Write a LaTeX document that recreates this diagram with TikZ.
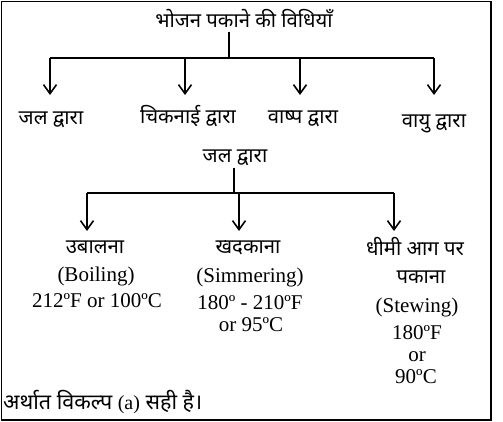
\documentclass[tikz,border=0pt]{standalone}
\usepackage{fontspec}
\setmainfont{Liberation Serif}
\newfontfamily\hin[Script=Devanagari]{Noto Sans}
\usetikzlibrary{arrows.meta}
\begin{document}
\begin{tikzpicture}[x=1pt,y=-1pt,
  frame/.style={line width=1.3pt},
  conn/.style={line width=1.6pt},
  arr/.style={line width=1.6pt,-{Straight Barb[length=9pt,width=13pt]}},
  hi/.style={font=\hin\fontsize{20.3}{22}\selectfont, inner sep=0pt, anchor=base},
  en/.style={font=\fontsize{21}{24}\selectfont, inner sep=0pt, anchor=base}]
\useasboundingbox (0,0) rectangle (503,422);
\draw[frame] (1.5,1.5) rectangle (491,420);

% level 0
\node[hi] (t) at (244,28) {भोजन पकाने की विधियाँ};
% level 1
\node[hi] (r1) at (51,125) {जल द्वारा};
\node[hi] (r2) at (188,124) {चिकनाई द्वारा};
\node[hi] (r3) at (303,124) {वाष्प द्वारा};
\node[hi] (r4) at (434,128) {वायु द्वारा};
% sub tree
\node[hi] (s) at (235,163) {जल द्वारा};
\node[hi] (b1) at (95,253) {उबालना};
\node[en] (b2) at (96,281) {(Boiling)};
\node[en] (b3) at (97,307) {212ºF or 100ºC};
\node[hi] (c1) at (248,253) {खदकाना};
\node[en] (c2) at (250,282) {(Simmering)};
\node[en] (c3) at (250,309) {180º - 210ºF};
\node[en] (c4) at (251,331) {or 95ºC};
\node[hi] (d1) at (415,255) {धीमी आग पर};
\node[hi] (d2) at (421,283) {पकाना};
\node[en] (d3) at (417,312) {(Stewing)};
\node[en] (d4) at (417,339) {180ºF};
\node[en] (d5) at (417,361) {or};
\node[en] (d6) at (416,383) {90ºC};
\node[hi, anchor=base west, font=\hin\fontsize{21.5}{24}\selectfont] (e) at (3,409) {अर्थात विकल्प {\rmfamily\fontsize{20}{22}\selectfont(a)} सही है।};

% connectors level 0 -> 1
\coordinate (t0) at (229,32);
\coordinate (tj) at (229,58);
\coordinate (h1) at (50,58);
\coordinate (h2) at (185,58);
\coordinate (h3) at (300,58);
\coordinate (h4) at (434,58);
\coordinate (a1) at (50,95);
\coordinate (a2) at (185,95);
\coordinate (a3) at (300,95);
\coordinate (a4) at (434,95);
\draw[conn] (t0) -- (tj);
\draw[conn] (h1) -- (h4);
\draw[arr] (h1) -- (a1);
\draw[arr] (h2) -- (a2);
\draw[arr] (h3) -- (a3);
\draw[arr] (h4) -- (a4);

% connectors sub tree
\coordinate (s0) at (234,168);
\coordinate (sj) at (234,193);
\coordinate (k1) at (87,193);
\coordinate (k2) at (239,193);
\coordinate (k3) at (394,193);
\coordinate (m1) at (87,231);
\coordinate (m2) at (239,231);
\coordinate (m3) at (394,231);
\draw[conn] (s0) -- (sj);
\draw[conn] (k1) -- (k3);
\draw[arr] (k1) -- (m1);
\draw[arr] (k2) -- (m2);
\draw[arr] (k3) -- (m3);
\end{tikzpicture}
\end{document}
